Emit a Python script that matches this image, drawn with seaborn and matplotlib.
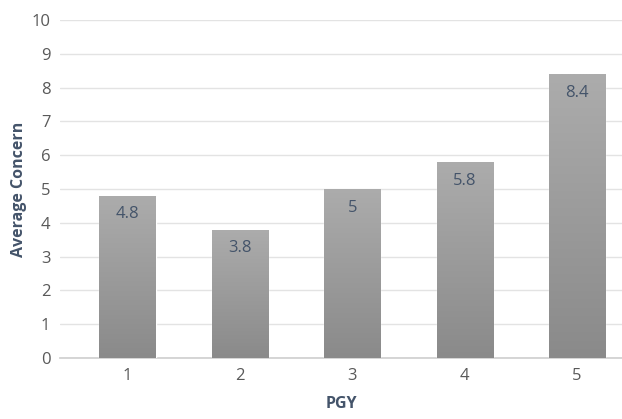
import numpy as np
import pandas as pd
import seaborn as sns
import matplotlib.pyplot as plt

# Data
pgy = ["1", "2", "3", "4", "5"]
concern = [4.8, 3.8, 5.0, 5.8, 8.4]
labels = ["4.8", "3.8", "5", "5.8", "8.4"]

df = pd.DataFrame({"PGY": pgy, "Average Concern": concern})

sns.set_theme(style="white")
plt.rcParams['font.family'] = ['Open Sans', 'DejaVu Sans']

fig = plt.figure(figsize=(6.22, 4.19), dpi=100)
ax = fig.add_axes([60 / 622, 61 / 419, 562 / 622, 338 / 419])

sns.barplot(data=df, x="PGY", y="Average Concern", color="#9c9c9c",
            width=0.5, ax=ax, zorder=3)

# vertical gradient fill clipped to each bar
grad = np.linspace(0, 1, 256).reshape(-1, 1)
cmap = plt.matplotlib.colors.LinearSegmentedColormap.from_list(
    "g", ["#8a8a8a", "#acacac"])
for p in ax.patches:
    x0, y0 = p.get_x(), p.get_y()
    w, h = p.get_width(), p.get_height()
    im = ax.imshow(grad, extent=[x0, x0 + w, y0, y0 + h], origin="lower",
                   cmap=cmap, aspect="auto", zorder=4)
    im.set_clip_path(p)

for p, lab in zip(ax.patches, labels):
    ax.text(p.get_x() + p.get_width() / 2, p.get_height() - 0.55, lab,
            ha="center", va="center", fontsize=12, color="#44546a", zorder=5)

ax.set_xlim(-0.6, 4.4)
ax.set_ylim(0, 10)
ax.set_yticks(range(0, 11))
ax.yaxis.grid(True, color="#e3e3e3", linewidth=1, zorder=0)
ax.set_axisbelow(True)
for s in ["top", "right", "left"]:
    ax.spines[s].set_visible(False)
ax.spines["bottom"].set_color("#d0d0d0")
ax.tick_params(axis="both", length=0, labelsize=12, colors="#595959", pad=7)

ax.set_xlabel("PGY", fontsize=11.5, fontweight="bold", color="#44546a", labelpad=9)
ax.set_ylabel("Average Concern", fontsize=11.5, fontweight="bold", color="#44546a", labelpad=3)

plt.savefig("out.png", dpi=100)
plt.close()
